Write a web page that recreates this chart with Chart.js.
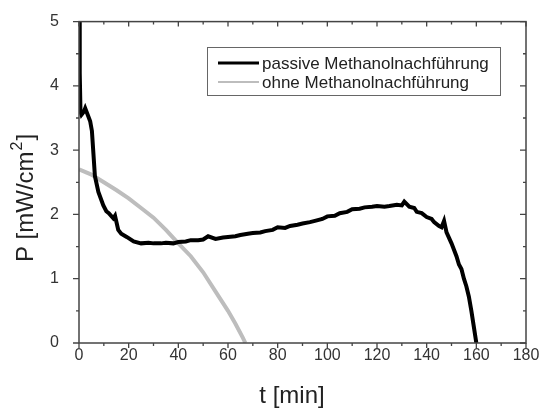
<!DOCTYPE html>
<html>
<head>
<meta charset="utf-8">
<script src="https://cdn.jsdelivr.net/npm/chart.js@4/dist/chart.umd.min.js"></script>
<style>
html,body{margin:0;padding:0;background:#fff;}
#wrap{width:541px;height:409px;}
</style>
</head>
<body>
<div id="wrap"><canvas id="c" width="541" height="409"></canvas></div>
<script>
// passive Methanolnachführung (t [min], P [mW/cm2])
const tPassive = [0,0.3,0.6,1,2,2.5,3.5,4.5,5.2,5.8,6.4,7.8,9.8,11,12,13.8,14.5,15.8,17,19.2,22,25,28,30,33,35,38,40,43,45,48,50,52,55,58,60,63,65,68,70,73,75,78,80,83,85,88,90,93,95,98,100,103,105,108,110,113,115,118,120,123,125,128,130,131,133,135,136,138,140,142,143,145,146,147,148,150,151,152,153,154,155,156,157,158,159,160];
const pPassive = [5.0,4.2,3.6,3.55,3.6,3.65,3.55,3.45,3.3,2.95,2.6,2.35,2.14,2.05,2.02,1.94,1.98,1.76,1.7,1.65,1.58,1.55,1.56,1.55,1.55,1.56,1.55,1.57,1.58,1.6,1.6,1.61,1.66,1.62,1.64,1.65,1.66,1.68,1.7,1.71,1.72,1.74,1.76,1.8,1.79,1.82,1.84,1.86,1.88,1.9,1.93,1.97,1.98,2.02,2.04,2.08,2.09,2.11,2.12,2.13,2.12,2.13,2.15,2.14,2.2,2.12,2.1,2.04,2.02,1.96,1.93,1.88,1.82,1.8,1.9,1.72,1.55,1.45,1.35,1.22,1.15,1.0,0.88,0.72,0.5,0.25,0.0];

// ohne Methanolnachführung
const tOhne = [0,5,10,15,20,25,30,35,40,45,50,55,60,63,66,67];
const pOhne = [2.7,2.62,2.5,2.38,2.25,2.1,1.95,1.76,1.55,1.35,1.1,0.8,0.5,0.3,0.08,0];

const seriesNames = ["passive Methanolnachführung","ohne Methanolnachführung"];
const xTicks = [0,20,40,60,80,100,120,140,160,180];
const yTicks = [0,1,2,3,4,5];
const xTitle = "t [min]";
const yTitle = ["P [mW/cm","2","]"];

const FONT = "'Liberation Sans', Arial, sans-serif";

function toXY(ts,ps){
let out=[];
for(let i=0;i<ts.length;i++){
out.push({x:ts[i],y:ps[i]});
}
return out;
}

// frame, ticks, axis titles and legend box
const framePlugin = {
id:"frame",
afterDatasetsDraw(chart){
const c = chart.ctx;
const a = chart.chartArea;
const xs = chart.scales.x;
const ys = chart.scales.y;
c.save();
c.strokeStyle = "#444";
c.lineWidth = 1.5;
c.strokeRect(a.left, a.top, a.right-a.left, a.bottom-a.top);
c.lineWidth = 1.3;
c.beginPath();
for(let v=0;v<=180;v+=10){
const px = xs.getPixelForValue(v);
const len = (v%20===0) ? 5 : 3;
c.moveTo(px, a.bottom); c.lineTo(px, a.bottom+len);
c.moveTo(px, a.top); c.lineTo(px, a.top+len);
}
for(let k=0;k<=10;k++){
const v = k*0.5;
const py = ys.getPixelForValue(v);
const len = (k%2===0) ? 6 : 3;
c.moveTo(a.left, py); c.lineTo(a.left-len, py);
c.moveTo(a.right, py); c.lineTo(a.right-len, py);
}
c.stroke();

// axis titles
c.fillStyle = "#222";
c.font = "24px " + FONT;
c.textBaseline = "alphabetic";
c.textAlign = "center";
c.fillText(xTitle, 292, 403);

c.save();
c.translate(33, 199);
c.rotate(-Math.PI/2);
c.textAlign = "left";
const big = "24px " + FONT, small = "16px " + FONT;
c.font = big;
const w1 = c.measureText(yTitle[0]).width;
const w3 = c.measureText(yTitle[2]).width;
c.font = small;
const w2 = c.measureText(yTitle[1]).width;
let x0 = -(w1+w2+w3)/2;
c.font = big;
c.fillText(yTitle[0], x0, 0);
c.font = small;
c.fillText(yTitle[1], x0+w1+1, -11);
c.font = big;
c.fillText(yTitle[2], x0+w1+w2+2, 0);
c.restore();

// legend
const lx = 207, ly = 47, lw = 293, lh = 48;
c.fillStyle = "#fff";
c.fillRect(lx, ly, lw, lh);
c.strokeStyle = "#666";
c.lineWidth = 1;
c.strokeRect(lx+0.5, ly+0.5, lw, lh);
c.font = "17px " + FONT;
c.textAlign = "left";
c.textBaseline = "middle";
chart.data.datasets.forEach(function(ds,i){
const y = ly + 16 + i*19;
c.strokeStyle = ds.borderColor;
c.lineWidth = i===0 ? 3 : 2;
c.beginPath();
c.moveTo(lx+11, y); c.lineTo(lx+52, y);
c.stroke();
c.fillStyle = "#222";
c.fillText(ds.label, lx+55, y+1);
});
c.restore();
}
};

const ctx = document.getElementById("c").getContext("2d");

const chart = new Chart(ctx,{
type:"line",
data:{
datasets:[{
label:seriesNames[0],
data:toXY(tPassive,pPassive),
borderColor:"#000",
borderWidth:4,
pointRadius:0,
tension:0
},{
label:seriesNames[1],
data:toXY(tOhne,pOhne),
borderColor:"#bdbdbd",
borderWidth:4,
pointRadius:0,
tension:0
}]
},
options:{
responsive:false,
animation:false,
layout:{padding:{left:0,top:17,right:15,bottom:0}},
plugins:{legend:{display:false},tooltip:{enabled:false}},
scales:{
x:{
type:"linear",
min:0,max:180,
afterBuildTicks(s){ s.ticks = xTicks.map(v=>({value:v})); },
afterFit(s){ s.height = 66; },
grid:{display:false},
border:{display:false},
ticks:{color:"#333",padding:-5,maxRotation:0,font:{size:16,family:FONT}}
},
y:{
min:0,max:5,
afterBuildTicks(s){ s.ticks = yTicks.map(v=>({value:v})); },
afterFit(s){ s.width = 79; },
grid:{display:false},
border:{display:false},
ticks:{color:"#333",padding:12,font:{size:16,family:FONT}}
}
}
},
plugins:[framePlugin]
});
</script>
</body>
</html>
